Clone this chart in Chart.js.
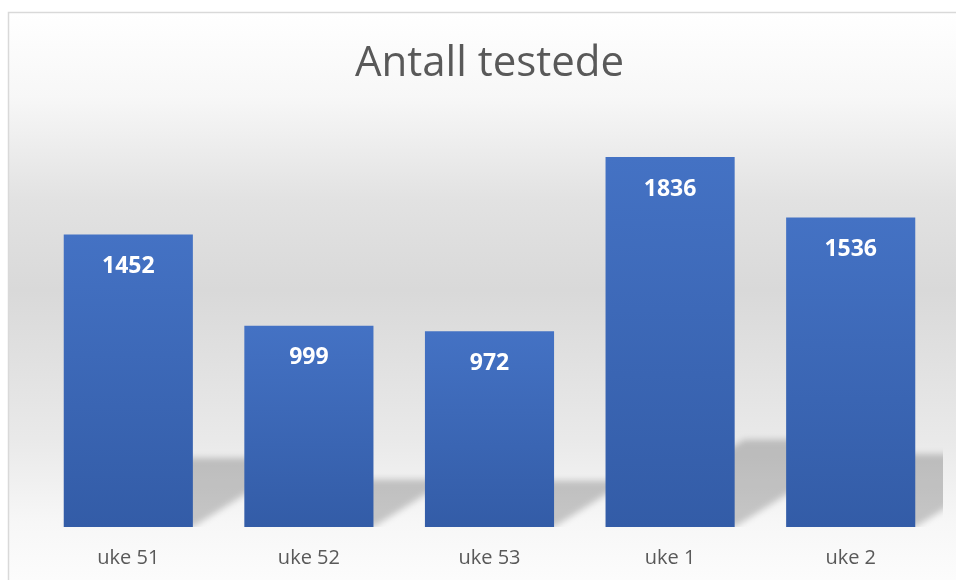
<!DOCTYPE html>
<html>
<head>
<meta charset="utf-8">
<script src="https://cdn.jsdelivr.net/npm/chart.js@4"></script>
<style>
  html, body { margin: 0; padding: 0; background: #fff; overflow: hidden; }
  #wrap { width: 956px; height: 580px; }
</style>
</head>
<body>
<div id="wrap"><canvas id="chart" width="956" height="580"></canvas></div>
<script>
const weeks = ['uke 51', 'uke 52', 'uke 53', 'uke 1', 'uke 2'];
const tested = [1452, 999, 972, 1836, 1536];
const chartTitle = 'Antall testede';

// box background (gray band in the middle) and frame
const backdrop = {
    id: 'backdrop',
    beforeDraw(chart) {
        const ctx = chart.ctx;
        const g = ctx.createLinearGradient(0, 12, 0, 580);
        g.addColorStop(0, '#ffffff');
        g.addColorStop(0.15, '#f7f7f7');
        g.addColorStop(0.33, '#e2e2e2');
        g.addColorStop(0.49, '#d9d9d9');
        g.addColorStop(0.75, '#e9e9e9');
        g.addColorStop(0.9, '#f7f7f7');
        g.addColorStop(1, '#fcfcfc');
        ctx.save();
        ctx.fillStyle = g;
        ctx.fillRect(8, 12, chart.width - 8, chart.height - 12);
        ctx.strokeStyle = '#d9d9d9';
        ctx.lineWidth = 1.5;
        ctx.beginPath();
        ctx.moveTo(8.5, chart.height);
        ctx.lineTo(8.5, 12.5);
        ctx.lineTo(chart.width, 12.5);
        ctx.stroke();
        ctx.restore();
    }
};

// perspective shadow behind each bar
const barShadows = {
    id: 'barShadows',
    beforeDatasetsDraw(chart) {
        const ctx = chart.ctx;
        const area = chart.chartArea;
        ctx.save();
        ctx.beginPath();
        ctx.rect(area.left, area.top, area.right - area.left + 2, area.bottom - area.top);
        ctx.clip();
        ctx.filter = 'blur(3px)';
        ctx.fillStyle = 'rgba(0,0,0,0.2)';
        chart.getDatasetMeta(0).data.forEach(bar => {
            const h = bar.base - bar.y;
            const sh = h * 0.236;
            const dx = h * 0.375;
            const l = bar.x - bar.width / 2;
            const r = bar.x + bar.width / 2;
            ctx.beginPath();
            ctx.moveTo(l, bar.base);
            ctx.lineTo(r, bar.base);
            ctx.lineTo(r + dx, bar.base - sh);
            ctx.lineTo(l + dx, bar.base - sh);
            ctx.closePath();
            ctx.fill();
        });
        ctx.restore();
    }
};

// white values inside the bars
const valueLabels = {
    id: 'valueLabels',
    afterDatasetsDraw(chart) {
        const ctx = chart.ctx;
        ctx.save();
        ctx.fillStyle = '#ffffff';
        ctx.font = 'bold 23px "Open Sans"';
        ctx.textAlign = 'center';
        ctx.textBaseline = 'middle';
        chart.getDatasetMeta(0).data.forEach((bar, i) => {
            ctx.fillText(tested[i], bar.x, bar.y + 32);
        });
        ctx.restore();
    }
};

const ctx = document.getElementById('chart').getContext('2d');
const chart = new Chart(ctx, {
    type: 'bar',
    data: {
        labels: weeks,
        datasets: [{
            label: chartTitle,
            data: tested,
            backgroundColor: context => {
                const c = context.chart;
                if (!c.chartArea) return '#4472c4';
                const y = c.scales.y;
                const top = y.getPixelForValue(context.raw);
                const base = y.getPixelForValue(0);
                const g = c.ctx.createLinearGradient(0, top, 0, base);
                g.addColorStop(0, '#4472c4');
                g.addColorStop(1, '#335ca7');
                return g;
            },
            borderWidth: 0,
            barPercentage: 0.715,
            categoryPercentage: 1
        }]
    },
    options: {
        responsive: false,
        animation: false,
        layout: { padding: { left: 38, right: 15, top: 0, bottom: 0 } },
        plugins: {
            legend: { display: false },
            tooltip: { enabled: false },
            title: {
                display: true,
                text: chartTitle,
                color: '#595959',
                font: { family: '"Open Sans"', size: 42, weight: 'normal', lineHeight: 1.2 },
                padding: { top: 39, bottom: 34.6 }
            }
        },
        scales: {
            x: {
                grid: { display: false, tickLength: 9 },
                border: { display: false },
                ticks: {
                    color: '#595959',
                    font: { family: '"Open Sans"', size: 20 },
                    padding: 10
                }
            },
            y: {
                display: false,
                min: 0,
                max: 2000
            }
        }
    },
    plugins: [backdrop, barShadows, valueLabels]
});
</script>
</body>
</html>
